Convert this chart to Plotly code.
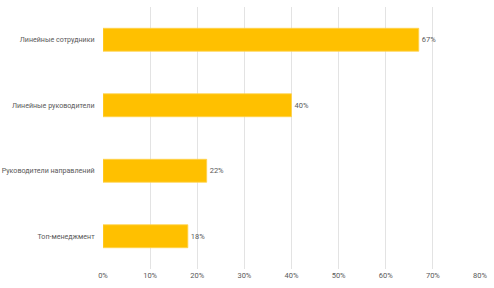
import plotly.graph_objects as go

categories = ["Топ-менеджмент", "Руководители направлений", "Линейные руководители", "Линейные сотрудники"]
values = [0.18, 0.22, 0.40, 0.67]
labels = ["18%", "22%", "40%", "67%"]
tick_vals = [0, 0.1, 0.2, 0.3, 0.4, 0.5, 0.6, 0.7, 0.8]
tick_text = ["0%", "10%", "20%", "30%", "40%", "50%", "60%", "70%", "80%"]

font_family = "Roboto, Open Sans, sans-serif"
grey = "#595959"
fs = 7.1

fig = go.Figure(go.Bar(
    y=categories,
    x=values,
    orientation="h",
    marker=dict(color="#FFC000", line=dict(color="#FFD24D", width=0.8)),
    text=labels,
    textposition="outside",
    cliponaxis=False,
    textfont=dict(family=font_family, size=7.5, color=grey),
    width=0.35,
))

fig.update_layout(
    width=494, height=288,
    margin=dict(l=103, r=14, t=7, b=19),
    paper_bgcolor="white", plot_bgcolor="white",
    showlegend=False,
    font=dict(family=font_family, size=fs, color=grey),
    xaxis=dict(
        range=[0, 0.8], tickvals=tick_vals, ticktext=tick_text,
        showgrid=True, gridcolor="#E3E3E3", gridwidth=1,
        zeroline=False, showline=False, automargin=False,
        tickfont=dict(family=font_family, size=7.5, color=grey),
        ticks="", ticklen=0,
    ),
    yaxis=dict(
        showgrid=False, zeroline=False, showline=False, automargin=False,
        tickfont=dict(family=font_family, size=fs, color=grey),
        ticks="outside", ticklen=6, tickcolor="rgba(0,0,0,0)",
    ),
)

fig.write_html("out.html")
